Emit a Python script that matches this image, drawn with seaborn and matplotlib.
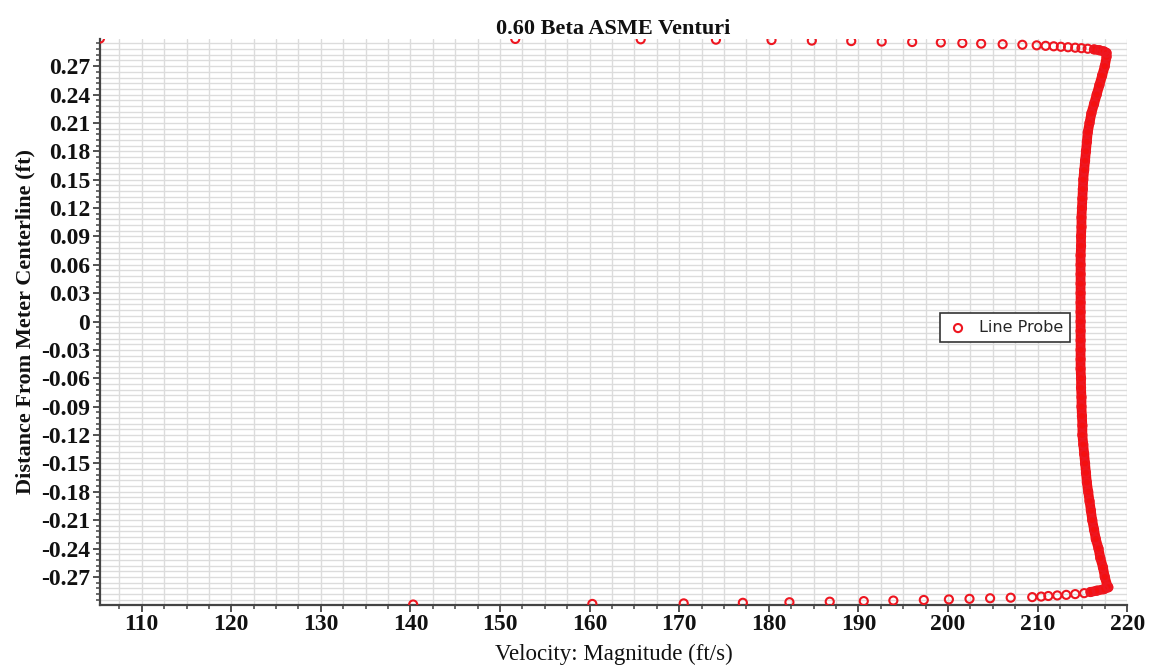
import numpy as np
import pandas as pd
import matplotlib
matplotlib.use("Agg")
import matplotlib.pyplot as plt
from matplotlib.ticker import MultipleLocator, FuncFormatter
import seaborn as sns

# Line probe samples: velocity magnitude (ft/s) vs distance from centerline (ft)
# Near-wall samples along the upper wall
top_velocity = [105.34, 151.7, 165.7, 174.1, 180.3, 184.8, 189.2, 192.6, 196.0,
                199.2, 201.6, 203.7, 206.1, 208.3, 209.9, 210.9, 211.8, 212.6,
                213.4, 214.2, 214.9, 215.6, 216.3, 216.9, 217.4, 217.7]
top_distance = [0.2992, 0.2988, 0.2984, 0.2980, 0.2976, 0.2970, 0.2965, 0.2960,
                0.2955, 0.2950, 0.2944, 0.2938, 0.2932, 0.2926, 0.2920, 0.2915,
                0.2910, 0.2905, 0.2900, 0.2895, 0.2890, 0.2884, 0.2877, 0.2868,
                0.2856, 0.2840]

# Core flow samples
core_distance = [0.28, 0.27, 0.26, 0.25, 0.24, 0.23, 0.22, 0.21, 0.20, 0.19,
                 0.18, 0.17, 0.16, 0.15, 0.14, 0.13, 0.12, 0.11, 0.10, 0.09,
                 0.08, 0.07, 0.06, 0.05, 0.04, 0.03, 0.02, 0.01, 0.00, -0.01,
                 -0.02, -0.03, -0.04, -0.05, -0.06, -0.07, -0.08, -0.09, -0.10,
                 -0.11, -0.12, -0.13, -0.14, -0.15, -0.16, -0.17, -0.18, -0.19,
                 -0.20, -0.21, -0.22, -0.23, -0.24, -0.25, -0.26, -0.27, -0.28]
core_velocity = [217.7, 217.5, 217.2, 216.9, 216.6, 216.3, 216.0, 215.8, 215.6,
                 215.5, 215.4, 215.3, 215.2, 215.1, 215.05, 215.0, 214.95, 214.9,
                 214.9, 214.85, 214.85, 214.8, 214.8, 214.8, 214.8, 214.8, 214.8,
                 214.8, 214.8, 214.8, 214.8, 214.8, 214.8, 214.8, 214.85, 214.85,
                 214.9, 214.9, 214.95, 215.0, 215.0, 215.1, 215.2, 215.3, 215.4,
                 215.5, 215.65, 215.8, 215.95, 216.1, 216.3, 216.5, 216.8, 217.0,
                 217.3, 217.5, 217.8]

# Near-wall samples along the lower wall
bottom_velocity = [140.3, 160.3, 170.5, 177.1, 182.3, 186.8, 190.6, 193.9, 197.3,
                   200.1, 202.4, 204.7, 207.0, 209.4, 210.4, 211.2, 212.2, 213.2,
                   214.2, 215.2, 215.9, 216.6, 217.4, 217.9]
bottom_distance = [-0.2992, -0.2986, -0.2980, -0.2974, -0.2968, -0.2962, -0.2956,
                   -0.2950, -0.2944, -0.2938, -0.2932, -0.2926, -0.2920, -0.2914,
                   -0.2908, -0.2902, -0.2896, -0.2890, -0.2882, -0.2872, -0.2860,
                   -0.2846, -0.2830, -0.2810]

probe = pd.DataFrame({
    "velocity": top_velocity + core_velocity + bottom_velocity[::-1],
    "distance": top_distance + core_distance + bottom_distance[::-1],
})
core = pd.DataFrame({
    "velocity": top_velocity[-4:] + core_velocity + bottom_velocity[::-1][:4],
    "distance": top_distance[-4:] + core_distance + bottom_distance[::-1][:4],
})

sns.set_theme(style="white")
serif = ["Liberation Serif", "DejaVu Serif"]

fig = plt.figure(figsize=(11.49, 6.69), dpi=100)
ax = fig.add_axes([0.087, 0.0964, 0.894, 0.846])

red = "#ee1620"
sns.lineplot(data=core, x="velocity", y="distance", sort=False, estimator=None,
             color="#f41010", linewidth=7, ax=ax, legend=False, zorder=3)
sns.scatterplot(data=probe, x="velocity", y="distance", marker="o",
                facecolor="none", edgecolor=red, linewidth=1.5, s=34,
                ax=ax, label="Line Probe", zorder=4, clip_on=True)

ax.set_xlim(105.34, 220)
ax.set_ylim(-0.2992, 0.2992)

ax.xaxis.set_major_locator(MultipleLocator(10))
ax.xaxis.set_minor_locator(MultipleLocator(2.5))
ax.yaxis.set_major_locator(MultipleLocator(0.03))
ax.yaxis.set_minor_locator(MultipleLocator(0.006))
ax.yaxis.set_major_formatter(FuncFormatter(
    lambda v, _: "0" if abs(v) < 1e-9 else f"{v:.2f}"))

ax.grid(which="both", color="#dcdcdc", linewidth=1.0)
ax.set_axisbelow(True)

for side in ("top", "right"):
    ax.spines[side].set_visible(False)
for side in ("left", "bottom"):
    ax.spines[side].set_color("#444444")
    ax.spines[side].set_linewidth(1.6)

ax.tick_params(which="major", direction="out", length=5, width=1.3,
               color="#444444", labelsize=17, pad=2)
ax.tick_params(which="minor", direction="out", length=3, width=1.1,
               color="#444444")
ax.tick_params(axis="x", which="both", bottom=True)
ax.tick_params(axis="y", which="both", left=True)
for lbl in ax.get_xticklabels() + ax.get_yticklabels():
    lbl.set_fontfamily(serif)
    lbl.set_fontweight("bold")
    lbl.set_color("#111111")

ax.set_title("0.60 Beta ASME Venturi", fontfamily=serif, fontsize=16,
             fontweight="semibold", color="#111111", pad=3)
ax.set_xlabel("Velocity: Magnitude (ft/s)", fontfamily=serif, fontsize=16.5,
              color="#111111", labelpad=6)
ax.set_ylabel("Distance From Meter Centerline (ft)", fontfamily=serif,
              fontsize=16, fontweight="bold", color="#111111", labelpad=4)

leg = ax.legend(loc="center", bbox_to_anchor=(0.881, 0.489), frameon=True,
                fancybox=False, edgecolor="#333333", framealpha=1,
                prop={"family": "DejaVu Sans", "size": 11.5},
                handletextpad=0.6, borderpad=0.45, handlelength=1.4)
leg.get_frame().set_linewidth(1.2)

fig.savefig("out.png", dpi=100)
